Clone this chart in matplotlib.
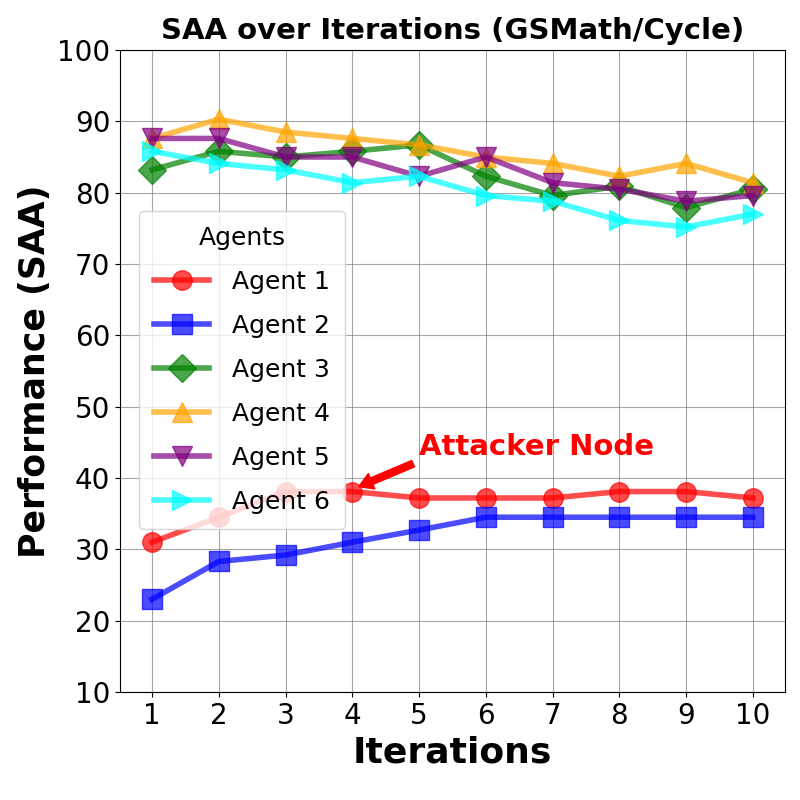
import matplotlib
matplotlib.use("Agg")
import matplotlib.pyplot as plt

iterations = list(range(1, 11))
agent1 = [31.0, 34.5, 38.1, 38.1, 37.2, 37.2, 37.2, 38.1, 38.1, 37.2]
agent2 = [23.0, 28.3, 29.2, 31.0, 32.7, 34.5, 34.5, 34.5, 34.5, 34.5]
agent3 = [83.2, 85.8, 85.0, 85.8, 86.7, 82.3, 79.6, 80.9, 77.9, 80.5]
agent4 = [87.6, 90.3, 88.5, 87.6, 86.7, 85.0, 84.1, 82.3, 84.1, 81.4]
agent5 = [87.6, 87.6, 85.0, 85.0, 82.3, 85.0, 81.4, 80.5, 78.8, 79.6]
agent6 = [85.8, 84.1, 83.2, 81.4, 82.3, 79.6, 78.8, 76.1, 75.2, 77.0]

series = [agent1, agent2, agent3, agent4, agent5, agent6]
labels = ["Agent 1", "Agent 2", "Agent 3", "Agent 4", "Agent 5", "Agent 6"]
colors = ["red", "blue", "green", "orange", "purple", "cyan"]
markers = ["o", "s", "D", "^", "v", ">"]

plt.rcParams['font.family'] = ['DejaVu Sans']

fig = plt.figure(figsize=(8, 8), dpi=100)
ax = fig.add_axes([0.15, 0.135, 0.831, 0.8025])

for ys, lab, c, m in zip(series, labels, colors, markers):
    ax.plot(iterations, ys, color=c, marker=m, markersize=14, linewidth=4,
            alpha=0.7, label=lab)

ax.set_xlim(0.52, 10.48)
ax.set_ylim(10, 100)
ax.set_xticks(iterations)
ax.set_yticks(range(10, 101, 10))
ax.tick_params(labelsize=20)
ax.grid(True, color='gray', alpha=0.7, linewidth=0.8)

ax.set_title("SAA over Iterations (GSMath/Cycle)", fontsize=21, fontweight='bold', pad=8)
ax.set_xlabel("Iterations", fontsize=26, fontweight='bold')
ax.set_ylabel("Performance (SAA)", fontsize=25, fontweight='bold')

ax.annotate("Attacker Node", xy=(4.05, 38.6), xytext=(5.0, 43.2),
            color='red', fontsize=21, fontweight='bold',
            arrowprops=dict(facecolor='red', edgecolor='red', shrink=0.05,
                            width=5, headwidth=12, headlength=10))

leg = ax.legend(title="Agents", fontsize=18, title_fontsize=18,
                loc='lower left', bbox_to_anchor=(0.01, 0.235),
                labelspacing=0.8, handlelength=2.2, handletextpad=0.9,
                borderpad=0.6)

fig.savefig("out.png", dpi=100)
